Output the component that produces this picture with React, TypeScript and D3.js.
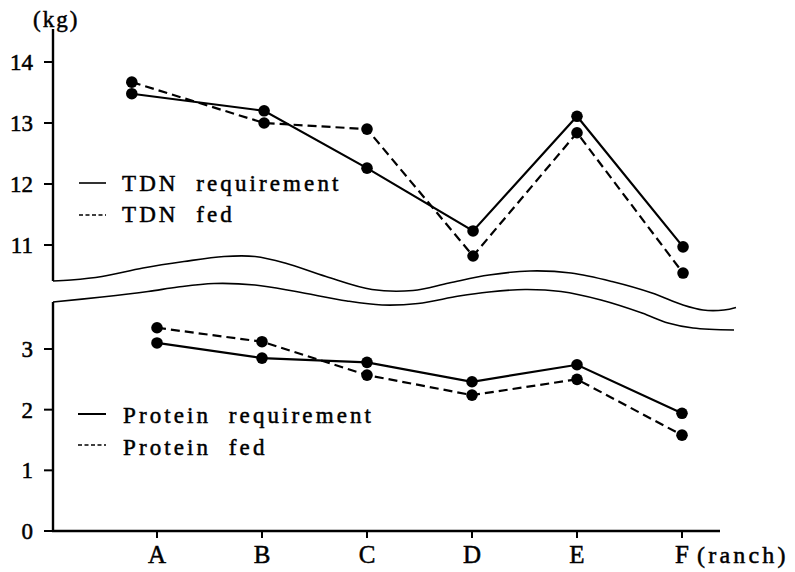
import React from "react";
import * as d3 from "d3";

const ranches = ["A", "B", "C", "D", "E", "F"];
const tdnRequirement = [13.48, 13.2, 12.26, 11.23, 13.11, 10.97];
const tdnFed = [13.67, 13.0, 12.9, 10.82, 12.84, 10.54];
const tdnXPos = [-0.24, 1.02, 2, 3.01, 4, 5.01];
const proteinRequirement = [3.1, 2.85, 2.78, 2.46, 2.74, 1.94];
const proteinFed = [3.35, 3.12, 2.57, 2.24, 2.5, 1.58];
const upperTicks = [11, 12, 13, 14];
const lowerTicks = [0, 1, 2, 3];

// axis-break wave decoration (pixel space)
const waveUpper: [number, number][] = [
  [53, 281], [71, 280], [102, 276.5], [143, 268], [184, 261.5], [224, 256.5], [255, 256.5],
  [285, 263], [326, 276.5], [372, 289.5], [413, 290.5], [449, 283], [489, 275], [530, 271],
  [571, 273], [612, 281.5], [652, 293], [683, 305], [703, 310], [724, 310], [736, 307.5],
];
const waveLower: [number, number][] = [
  [53, 302], [102, 297], [148, 291.5], [178, 287], [214, 283.5], [255, 285], [296, 291.5],
  [347, 301], [382, 305], [418, 303.5], [459, 296], [489, 292], [525, 289.5], [561, 291.5],
  [601, 300], [642, 313], [668, 323], [693, 328], [734, 330],
];

const FONT = "Liberation Serif, DejaVu Serif, serif";

export default function App() {
  const W = 795, H = 572;
  const axisX = 53;
  const x = d3.scaleLinear().domain([0, 5]).range([157, 682]);
  const yU = d3.scaleLinear().domain([11, 14]).range([245, 62]);
  const yL = d3.scaleLinear().domain([0, 3]).range([531, 349]);

  const lineU = (vals: number[]) =>
    d3.line<number>().x((_, i) => x(tdnXPos[i])).y((v) => yU(v))(vals) || "";
  const lineL = (vals: number[]) =>
    d3.line<number>().x((_, i) => x(i)).y((v) => yL(v))(vals) || "";
  const wave = d3.line().curve(d3.curveCatmullRom.alpha(0.5));

  const dash = "9,5";
  const ts = { fontFamily: FONT, whiteSpace: "pre" as const };
  const tw = { stroke: "#000", strokeWidth: 0.5 };

  return (
    <svg width={W} height={H} style={{ position: "absolute", left: 0, top: 0, background: "#fff", fontFamily: FONT }}>
      <rect width={W} height={H} fill="#fff" />
      {/* wave breaks */}
      <path d={wave(waveUpper) || ""} fill="none" stroke="#000" strokeWidth={1.6} />
      <path d={wave(waveLower) || ""} fill="none" stroke="#000" strokeWidth={1.6} />

      {/* y axes */}
      <line x1={axisX} x2={axisX} y1={29} y2={281} stroke="#000" strokeWidth={2.4} />
      <line x1={axisX} x2={axisX} y1={302} y2={532} stroke="#000" strokeWidth={2.4} />
      {upperTicks.map((t) => (
        <g key={"u" + t}>
          <line x1={44} x2={axisX} y1={yU(t)} y2={yU(t)} stroke="#000" strokeWidth={2} />
          <text x={33} y={yU(t) + 8} textAnchor="end" fontSize={23} style={ts} {...tw}>{t}</text>
        </g>
      ))}
      {lowerTicks.map((t) => (
        <g key={"l" + t}>
          <line x1={44} x2={axisX} y1={yL(t)} y2={yL(t)} stroke="#000" strokeWidth={2} />
          <text x={33} y={yL(t) + 8} textAnchor="end" fontSize={23} style={ts} {...tw}>{t}</text>
        </g>
      ))}
      <text x={33} y={27} fontSize={23} letterSpacing={2} style={ts} {...tw}>(kg)</text>

      {/* x axis */}
      <line x1={axisX - 1} x2={720} y1={531} y2={531} stroke="#000" strokeWidth={2.4} />
      {ranches.map((r, i) => (
        <g key={r}>
          <line x1={x(i)} x2={x(i)} y1={531} y2={538} stroke="#000" strokeWidth={2} />
          <text x={x(i)} y={563} textAnchor="middle" fontSize={25} style={ts} {...tw}>{r}</text>
        </g>
      ))}
      <text x={697} y={563} fontSize={24} letterSpacing={3.2} style={ts} {...tw}>(ranch)</text>

      {/* TDN */}
      <path d={lineU(tdnRequirement)} fill="none" stroke="#000" strokeWidth={2.2} />
      <path d={lineU(tdnFed)} fill="none" stroke="#000" strokeWidth={2.2} strokeDasharray={dash} />
      {tdnRequirement.map((v, i) => (
        <circle key={"tr" + i} cx={x(tdnXPos[i])} cy={yU(v)} r={5.8} fill="#000" />
      ))}
      {tdnFed.map((v, i) => (
        <circle key={"tf" + i} cx={x(tdnXPos[i])} cy={yU(v)} r={5.8} fill="#000" />
      ))}

      {/* Protein */}
      <path d={lineL(proteinRequirement)} fill="none" stroke="#000" strokeWidth={2.2} />
      <path d={lineL(proteinFed)} fill="none" stroke="#000" strokeWidth={2.2} strokeDasharray={dash} />
      {proteinRequirement.map((v, i) => (
        <circle key={"pr" + i} cx={x(i)} cy={yL(v)} r={5.8} fill="#000" />
      ))}
      {proteinFed.map((v, i) => (
        <circle key={"pf" + i} cx={x(i)} cy={yL(v)} r={5.8} fill="#000" />
      ))}

      {/* legends */}
      <line x1={79} x2={106} y1={183} y2={183} stroke="#000" strokeWidth={1.6} />
      <text x={122} y={191} fontSize={23} letterSpacing={3.1} style={ts} {...tw}>TDN  requirement</text>
      <line x1={79} x2={106} y1={215} y2={215} stroke="#000" strokeWidth={1.6} strokeDasharray="4,2.5" />
      <text x={122} y={222} fontSize={23} letterSpacing={3.1} style={ts} {...tw}>TDN  fed</text>

      <line x1={78} x2={106} y1={414} y2={414} stroke="#000" strokeWidth={2} />
      <text x={123} y={423} fontSize={23} letterSpacing={3.1} style={ts} {...tw}>Protein  requirement</text>
      <line x1={78} x2={106} y1={445} y2={445} stroke="#000" strokeWidth={1.6} strokeDasharray="4,2.5" />
      <text x={123} y={455} fontSize={23} letterSpacing={3.1} style={ts} {...tw}>Protein  fed</text>
    </svg>
  );
}
